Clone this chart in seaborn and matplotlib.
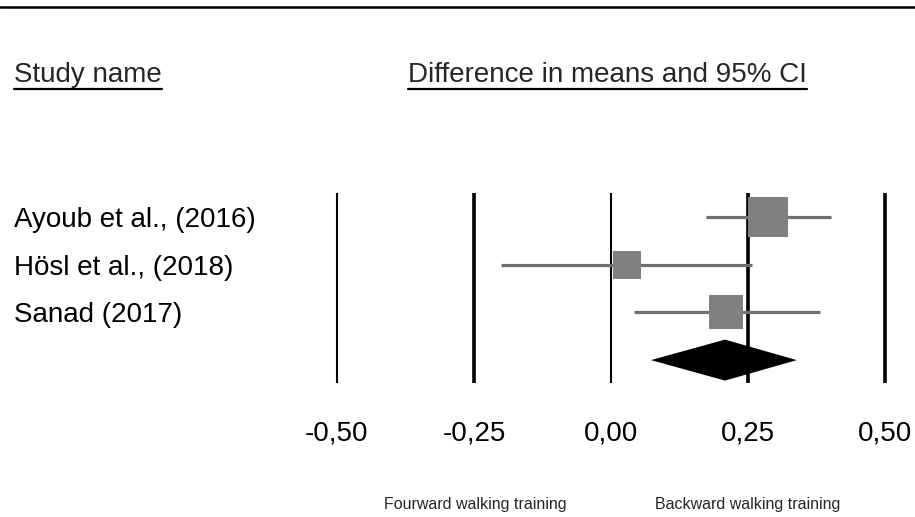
import numpy as np
import pandas as pd
import matplotlib
matplotlib.use("Agg")
import matplotlib.pyplot as plt
import matplotlib.transforms as mtransforms
import seaborn as sns

# Study-level estimates (difference in means with 95% CI) and weights (%)
studies = ["Ayoub et al., (2016)", "Hösl et al., (2018)", "Sanad (2017)"]
means = [0.287, 0.029, 0.210]
ci_low = [0.173, -0.20, 0.042]
ci_high = [0.401, 0.257, 0.381]
weights = [45.2, 22.1, 32.7]

# Pooled estimate
pooled_mean = 0.208
pooled_low = 0.073
pooled_high = 0.339

ticks = [-0.50, -0.25, 0.00, 0.25, 0.50]
tick_labels = ["-0,50", "-0,25", "0,00", "0,25", "0,50"]
header_left = "Study name"
header_right = "Difference in means and 95% CI"
favours_left = "Fourward walking training"
favours_right = "Backward walking training"

sns.set_theme(style="white")
plt.rcParams["font.family"] = ["Liberation Sans", "DejaVu Sans"]

W, H = 915, 517
fig = plt.figure(figsize=(W / 100, H / 100), dpi=100)
ax = fig.add_axes([0, 0, 1, 1])
ax.set_axis_off()

# Axis scaling: 0 sits at x=611 px, 548 px per unit; rows ~47.7 px apart from 217 px
x0_px, unit_px = 611, 548
row0_px, row_px = 217, 47.7
ax.set_xlim(-x0_px / unit_px, (W - x0_px) / unit_px)
ax.set_ylim((H - row0_px) / row_px, -row0_px / row_px)

rows = np.arange(len(studies))
df = pd.DataFrame({"study": studies, "mean": means, "lo": ci_low,
                   "hi": ci_high, "weight": weights, "row": rows})

# Reference lines at each tick
line_top = (193 - row0_px) / row_px
line_bot = (383 - row0_px) / row_px
tick_lw = [1.5, 2.6, 1.5, 2.6, 2.6]
for t, lw in zip(ticks, tick_lw):
    ax.vlines(t, line_top, line_bot, color="black", lw=lw, zorder=1)

# Confidence intervals
ax.hlines(df["row"], df["lo"], df["hi"], color="#6f6f6f", lw=2.3, zorder=2)

# Weighted squares
sns.scatterplot(data=df, x="mean", y="row", marker="s", color="#808080",
                s=df["weight"].to_numpy() * 18.34, linewidth=0, ax=ax,
                legend=False, zorder=3)

# Pooled diamond
prow = len(studies)
half_h = 20.5 / row_px
ax.fill([pooled_low, pooled_mean, pooled_high, pooled_mean],
        [prow, prow - half_h, prow, prow + half_h],
        color="black", lw=0, zorder=3)

# Study labels
blend = mtransforms.blended_transform_factory(ax.transAxes, ax.transData)
label_off = 10 / row_px
for r, name in zip(rows, studies):
    ax.text(14 / W, r + label_off, name, transform=blend, fontsize=20,
            va="baseline", ha="left", color="black")

# Tick labels
tick_row = (441 - row0_px) / row_px
for t, lab in zip(ticks, tick_labels):
    ax.text(t, tick_row, lab, fontsize=20, ha="center", va="baseline",
            color="black")

# Headers with underlines
hy = 1 - 82 / H
t1 = fig.text(14 / W, hy, header_left, fontsize=20, ha="left", va="baseline")
t2 = fig.text(408 / W, hy, header_right, fontsize=20, ha="left", va="baseline")
fig.canvas.draw()
renderer = fig.canvas.get_renderer()
uy = 1 - 88.5 / H
for t in (t1, t2):
    bb = t.get_window_extent(renderer)
    fig.add_artist(plt.Line2D([bb.x0 / W, bb.x1 / W], [uy, uy],
                              color="black", lw=1.6))

# Top rule
fig.add_artist(plt.Line2D([0, 1], [1 - 7 / H, 1 - 7 / H], color="black", lw=1.8))

# Favours labels
fy = 1 - 505 / H
fig.text(475 / W, fy, favours_left, fontsize=11.5, ha="center", va="center")
fig.text(748 / W, fy, favours_right, fontsize=11.5, ha="center", va="center")

fig.savefig("out.png", dpi=100)
